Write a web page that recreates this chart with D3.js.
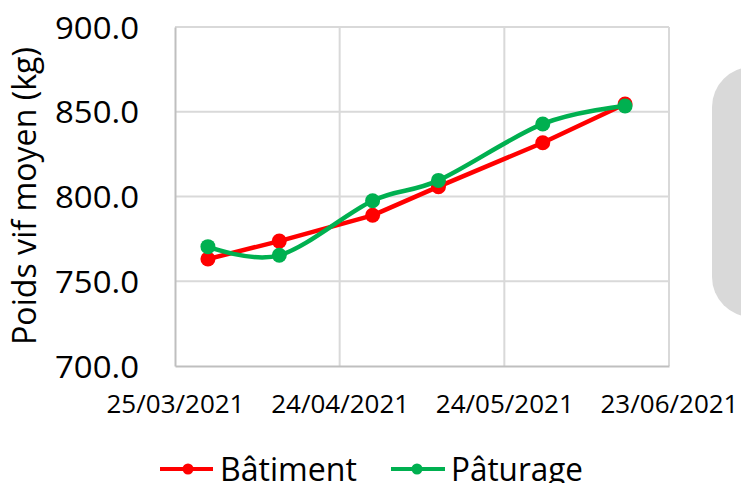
<!DOCTYPE html>
<html><head><meta charset="utf-8">
<script src="https://cdn.jsdelivr.net/npm/d3@7"></script>
<style>body{margin:0;background:#fff}svg{display:block}text{font-family:"Open Sans","Noto Sans",sans-serif;fill:#000}</style>
</head><body><svg id="c" width="741" height="483"></svg>
<script>
const dates = ["31/03/2021","13/04/2021","30/04/2021","12/05/2021","31/05/2021","15/06/2021"];
const batiment = [763.1, 773.7, 788.9, 805.8, 831.7, 854.6];
const paturage = [770.4, 765.3, 797.5, 809.5, 842.8, 853.4];
const xTicks = ["25/03/2021","24/04/2021","24/05/2021","23/06/2021"];
const yTicks = [700, 750, 800, 850, 900];
const seriesNames = ["Bâtiment","Pâturage"];
const colors = ["#ff0000","#00b050"];

const parse = d3.timeParse("%d/%m/%Y");
const fmt = d3.timeFormat("%d/%m/%Y");
const svg = d3.select("#c");
const L=175, R=669, T=27, B=366;
const x = d3.scaleTime().domain([parse(xTicks[0]), parse(xTicks[xTicks.length-1])]).range([L,R]);
const y = d3.scaleLinear().domain([700,900]).range([B,T]);

// background shape at right
svg.append("rect").attr("x",712).attr("y",67).attr("width",90).attr("height",250).attr("rx",40).attr("fill","#d9d9d9");

// grid
const g = svg.append("g");
g.selectAll(".hg").data(yTicks.slice(1)).join("line").attr("x1",L).attr("x2",R).attr("y1",d=>y(d)).attr("y2",d=>y(d)).attr("stroke","#d9d9d9").attr("stroke-width",2);
g.selectAll(".vg").data(xTicks.slice(1)).join("line").attr("x1",d=>x(parse(d))).attr("x2",d=>x(parse(d))).attr("y1",T).attr("y2",B).attr("stroke","#d9d9d9").attr("stroke-width",2);

// axes
const ax = svg.append("g").attr("transform",`translate(0,${B})`)
  .call(d3.axisBottom(x).tickValues(xTicks.map(parse)).tickFormat(fmt).tickSize(0).tickPadding(0));
ax.select(".domain").attr("stroke","#bfbfbf").attr("stroke-width",2);
ax.selectAll("text").attr("y",47).attr("dy",null).attr("font-size",25).attr("textLength",138).attr("lengthAdjust","spacingAndGlyphs").style("font-family",'"Open Sans","Noto Sans",sans-serif').attr("fill","#000");

const ay = svg.append("g").attr("transform",`translate(${L},0)`)
  .call(d3.axisLeft(y).tickValues(yTicks).tickFormat(d3.format(".1f")).tickSize(0).tickPadding(0));
ay.select(".domain").attr("stroke","#bfbfbf").attr("stroke-width",2);
ay.selectAll("text").attr("x",-36).attr("dy",11).attr("font-size",31).attr("textLength",84).attr("lengthAdjust","spacingAndGlyphs").style("font-family",'"Open Sans","Noto Sans",sans-serif').attr("fill","#000");

// y title
svg.append("text").attr("transform","translate(36,196) rotate(-90)").attr("text-anchor","middle")
  .attr("font-size",32).attr("textLength",298).attr("lengthAdjust","spacingAndGlyphs").text("Poids vif moyen (kg)");

// series
const series = [batiment, paturage];
const curves = [d3.curveLinear, d3.curveCardinal.tension(0)];
series.forEach((vals,i)=>{
  const pts = dates.map((d,j)=>[parse(d), vals[j]]);
  svg.append("path").datum(pts).attr("fill","none").attr("stroke",colors[i]).attr("stroke-width",4.5)
    .attr("stroke-linejoin","round").attr("stroke-linecap","round")
    .attr("d", d3.line().x(p=>x(p[0])).y(p=>y(p[1])).curve(curves[i]));
  svg.append("g").selectAll("circle").data(pts).join("circle").attr("cx",p=>x(p[0])).attr("cy",p=>y(p[1])).attr("r",7.5).attr("fill",colors[i]);
});

// legend
const leg = [{x1:160,x2:213,cx:188,tx:220,w:137},{x1:391,x2:445,cx:417,tx:451,w:132}];
leg.forEach((l,i)=>{
  svg.append("line").attr("x1",l.x1).attr("x2",l.x2).attr("y1",469).attr("y2",469).attr("stroke",colors[i]).attr("stroke-width",4);
  svg.append("circle").attr("cx",l.cx).attr("cy",469).attr("r",5.5).attr("fill",colors[i]);
  svg.append("text").attr("x",l.tx).attr("y",481).attr("font-size",33).attr("textLength",l.w).attr("lengthAdjust","spacingAndGlyphs").text(seriesNames[i]);
});
</script></body></html>
